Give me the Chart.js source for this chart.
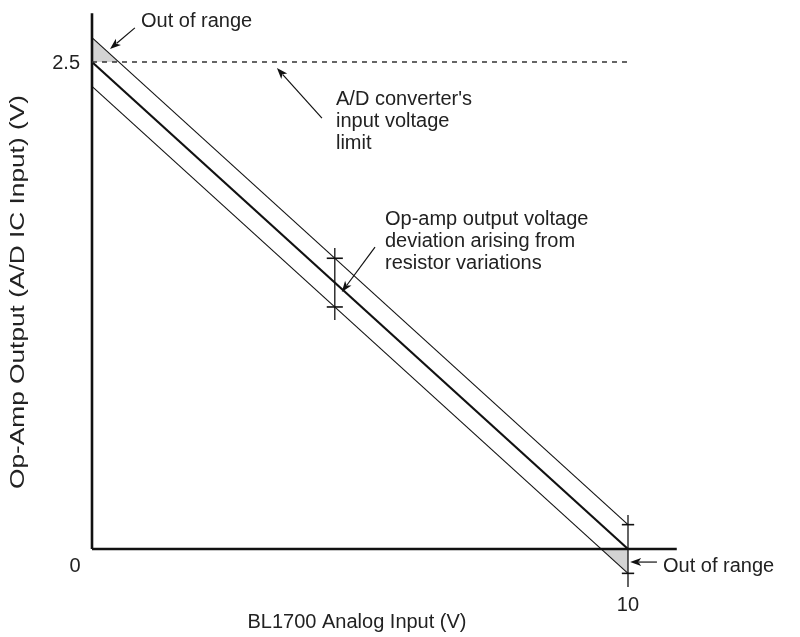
<!DOCTYPE html>
<html>
<head>
<meta charset="utf-8">
<script src="https://cdn.jsdelivr.net/npm/chart.js@4.4.1/dist/chart.umd.min.js"></script>
<style>
  html, body { margin: 0; padding: 0; background: #fff; }
  #wrap { width: 800px; height: 637px; position: relative; }
</style>
</head>
<body>
<div id="wrap"><canvas id="chart"></canvas></div>
<script>
// ideal transfer line: 10 V in -> 0 V out, 0 V in -> 2.5 V out
const inputV = [0, 10];
const idealOut = [2.5, 0];
const deviation = 0.125;          // spread from resistor variations
const adLimit = 2.5;              // A/D converter input limit
const xAxisEnd = 10.91;
const yAxisEnd = 2.75;

// error bar markers (x position, bar top, bar bottom, tick half width)
const barX = [4.53, 10];
const barTop = [1.545, 0.175];
const barBottom = [1.176, -0.195];
const barTickHalf = [0.15, 0.115];

// tick labels
const yTickLabels = ['2.5', '0'];
const xTickLabels = ['10'];

// callout arrows: [fromX, fromY, toX, toY]
const arrows = [
  [0.80, 2.675, 0.336, 2.567],
  [4.29, 2.212, 3.45, 2.469],
  [5.28, 1.550, 4.66, 1.319],
  [10.54, -0.067, 10.04, -0.067]
];

// callout texts: [x, baselineY, text]
const notes = [
  [0.914, 2.680, 'Out of range'],
  [4.552, 2.279, "A/D converter's"],
  [4.552, 2.166, 'input voltage'],
  [4.552, 2.053, 'limit'],
  [5.466, 1.663, 'Op-amp output voltage'],
  [5.466, 1.550, 'deviation arising from'],
  [5.466, 1.437, 'resistor variations'],
  [10.653, -0.118, 'Out of range']
];

const FONT = '20px "Liberation Sans", Arial, sans-serif';

function pts(xs, ys) {
  return xs.map((x, i) => ({ x: x, y: ys[i] }));
}

const upperOut = idealOut.map(v => v + deviation);
const lowerOut = idealOut.map(v => v - deviation);

// where the deviated lines cross the limits
const slope = (idealOut[1] - idealOut[0]) / (inputV[1] - inputV[0]);
const upperCross = (adLimit - upperOut[0]) / slope;
const lowerCross = (0 - lowerOut[0]) / slope;

function line(data, width, extra) {
  return Object.assign({
    data: data,
    borderColor: '#111',
    borderWidth: width,
    pointRadius: 0,
    fill: false,
    clip: false,
    order: 1
  }, extra || {});
}

const datasets = [
  // gray out-of-range areas
  line([{ x: 0, y: upperOut[0] }, { x: upperCross, y: adLimit }], 0,
    { fill: { value: adLimit }, backgroundColor: '#d3d3d3', order: 10 }),
  line([{ x: lowerCross, y: 0 }, { x: inputV[1], y: lowerOut[1] }], 0,
    { fill: { value: 0 }, backgroundColor: '#d3d3d3', order: 10 }),
  // limit line
  line([{ x: 0, y: adLimit }, { x: inputV[1], y: adLimit }], 1.3,
    { borderDash: [5, 5], borderColor: '#333' }),
  // transfer lines
  line(pts(inputV, upperOut), 1.1),
  line(pts(inputV, idealOut), 2.2),
  line(pts(inputV, lowerOut), 1.1),
  // axes
  line([{ x: 0, y: 0 }, { x: xAxisEnd, y: 0 }], 2.6),
  line([{ x: 0, y: 0 }, { x: 0, y: yAxisEnd }], 2.6)
];

// error bars with end ticks
barX.forEach((bx, i) => {
  const c = idealOut[0] + slope * bx;
  datasets.push(line([{ x: bx, y: barTop[i] }, { x: bx, y: barBottom[i] }], 1.3));
  [c + deviation, c - deviation].forEach(ty => {
    datasets.push(line([{ x: bx - barTickHalf[i], y: ty }, { x: bx + barTickHalf[i], y: ty }], 1.6));
  });
});

const annotate = {
  id: 'annotate',
  afterDatasetsDraw(chart) {
    const ctx = chart.ctx;
    const xs = chart.scales.x, ys = chart.scales.y;
    const px = v => xs.getPixelForValue(v);
    const py = v => ys.getPixelForValue(v);
    ctx.save();

    // arrows
    ctx.strokeStyle = '#111';
    ctx.fillStyle = '#111';
    ctx.lineWidth = 1.2;
    arrows.forEach(a => {
      const x1 = px(a[0]), y1 = py(a[1]), x2 = px(a[2]), y2 = py(a[3]);
      const ang = Math.atan2(y2 - y1, x2 - x1);
      const len = 11, half = 4;
      ctx.beginPath();
      ctx.moveTo(x1, y1);
      ctx.lineTo(x2 - Math.cos(ang) * len * 0.8, y2 - Math.sin(ang) * len * 0.8);
      ctx.stroke();
      ctx.beginPath();
      ctx.moveTo(x2, y2);
      ctx.lineTo(x2 - Math.cos(ang) * len - Math.sin(ang) * half, y2 - Math.sin(ang) * len + Math.cos(ang) * half);
      ctx.lineTo(x2 - Math.cos(ang) * len * 0.75, y2 - Math.sin(ang) * len * 0.75);
      ctx.lineTo(x2 - Math.cos(ang) * len + Math.sin(ang) * half, y2 - Math.sin(ang) * len - Math.cos(ang) * half);
      ctx.closePath();
      ctx.fill();
    });

    // notes
    ctx.font = FONT;
    ctx.fillStyle = '#222';
    ctx.textBaseline = 'alphabetic';
    ctx.textAlign = 'left';
    notes.forEach(n => ctx.fillText(n[2], px(n[0]), py(n[1])));

    // tick labels
    ctx.textBaseline = 'middle';
    ctx.textAlign = 'right';
    ctx.fillText(yTickLabels[0], px(0) - 12, py(2.5) + 1);
    ctx.textAlign = 'center';
    ctx.fillText(yTickLabels[1], px(0) - 17, py(0) + 17);
    ctx.fillText(xTickLabels[0], px(10), py(0) + 56);

    // axis titles
    ctx.textBaseline = 'alphabetic';
    ctx.fillText('BL1700 Analog Input (V)', px(0) + 265, py(0) + 79);
    ctx.translate(24, py(0) - 257);
    ctx.rotate(-Math.PI / 2);
    ctx.scale(1.25, 1);
    ctx.font = '21px "Liberation Sans", Arial, sans-serif';
    ctx.fillText('Op-Amp Output (A/D IC Input) (V)', 0, 0);
    ctx.restore();
  }
};

new Chart(document.getElementById('chart'), {
  type: 'scatter',
  data: { datasets: datasets },
  options: {
    responsive: true,
    maintainAspectRatio: false,
    animation: false,
    showLine: true,
    layout: { padding: 0 },
    scales: {
      // ranges chosen so x=0 sits at px 92, x=10 at px 628, y=0 at px 549, y=2.5 at px 62
      x: { type: 'linear', display: false, min: -1.7164, max: 13.209 },
      y: { type: 'linear', display: false, min: -0.4517, max: 2.8183 }
    },
    plugins: {
      legend: { display: false },
      tooltip: { enabled: false }
    },
    elements: { line: { tension: 0 } }
  },
  plugins: [annotate]
});
</script>
</body>
</html>
